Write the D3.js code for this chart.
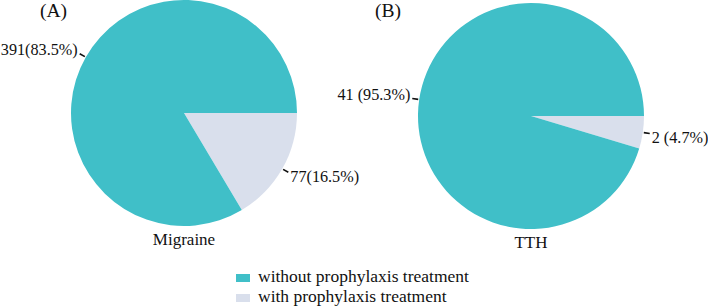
<!DOCTYPE html>
<html>
<head>
<meta charset="utf-8">
<script src="https://cdn.jsdelivr.net/npm/d3@7"></script>
<style>
  body { margin: 0; background: #fff; }
  text { font-family: "Liberation Serif", "Times New Roman", serif; fill: #111; }
</style>
</head>
<body>
<svg width="708" height="306"></svg>
<script>
// Data
const panels = ["(A)", "(B)"];
const groups = ["Migraine", "TTH"];
const categories = ["without prophylaxis treatment", "with prophylaxis treatment"];
const withoutCounts = [391, 41];
const withCounts = [77, 2];
const labelSep = ["", " "]; // panel B puts a space before the percent

const colors = ["#40bfc8", "#d9dfec"];

const svg = d3.select("svg");
const r = 113;
const centers = [[184, 113], [531, 116]];
const titlePos = [[40, 17], [375, 17]];

const color = d3.scaleOrdinal().domain(categories).range(colors);

// slices start at 3 o'clock, "with" slice first going clockwise
const pie = d3.pie()
  .sort(null)
  .value(d => d.value)
  .startAngle(Math.PI / 2)
  .endAngle(Math.PI / 2 + 2 * Math.PI);

const arc = d3.arc().innerRadius(0).outerRadius(r);

groups.forEach((name, i) => {
  const data = [
    { key: categories[1], value: withCounts[i] },
    { key: categories[0], value: withoutCounts[i] }
  ];
  const total = d3.sum(data, d => d.value);
  const arcs = pie(data);

  const g = svg.append("g")
    .attr("transform", `translate(${centers[i][0]},${centers[i][1]})`);

  g.selectAll("path")
    .data(arcs)
    .join("path")
    .attr("d", arc)
    .attr("fill", d => color(d.data.key));

  // leader ticks and labels
  arcs.forEach(a => {
    const mid = (a.startAngle + a.endAngle) / 2;
    const dx = Math.sin(mid), dy = -Math.cos(mid);
    const side = dx < 0 ? -1 : 1;
    g.append("line")
      .attr("x1", dx * (r + 1)).attr("y1", dy * (r + 1))
      .attr("x2", dx * (r + 7)).attr("y2", dy * (r + 7))
      .attr("stroke", "#111")
      .attr("stroke-width", 1.6);
    const pct = (a.data.value / total * 100).toFixed(1);
    g.append("text")
      .attr("x", dx * (r + 7) + side * 2)
      .attr("y", dy * (r + 7) + side * 4)
      .attr("dy", "0.33em")
      .attr("text-anchor", side < 0 ? "end" : "start")
      .attr("font-size", 16.2)
      .text(`${a.data.value}${labelSep[i]}(${pct}%)`);
  });

  g.append("text")
    .attr("x", 0)
    .attr("y", r + 19)
    .attr("text-anchor", "middle")
    .attr("font-size", 17)
    .text(name);

  svg.append("text")
    .attr("x", titlePos[i][0])
    .attr("y", titlePos[i][1])
    .attr("font-size", 19.5)
    .text(panels[i]);
});

// legend
const legend = svg.append("g").attr("transform", "translate(236,282)");
const items = legend.selectAll("g")
  .data(categories)
  .join("g")
  .attr("transform", (d, i) => `translate(0,${i * 20})`);
items.append("rect")
  .attr("x", 0).attr("y", -8)
  .attr("width", 14).attr("height", 8)
  .attr("fill", d => color(d));
items.append("text")
  .attr("x", 22).attr("y", 0)
  .attr("font-size", 17.5)
  .text(d => d);
</script>
</body>
</html>
